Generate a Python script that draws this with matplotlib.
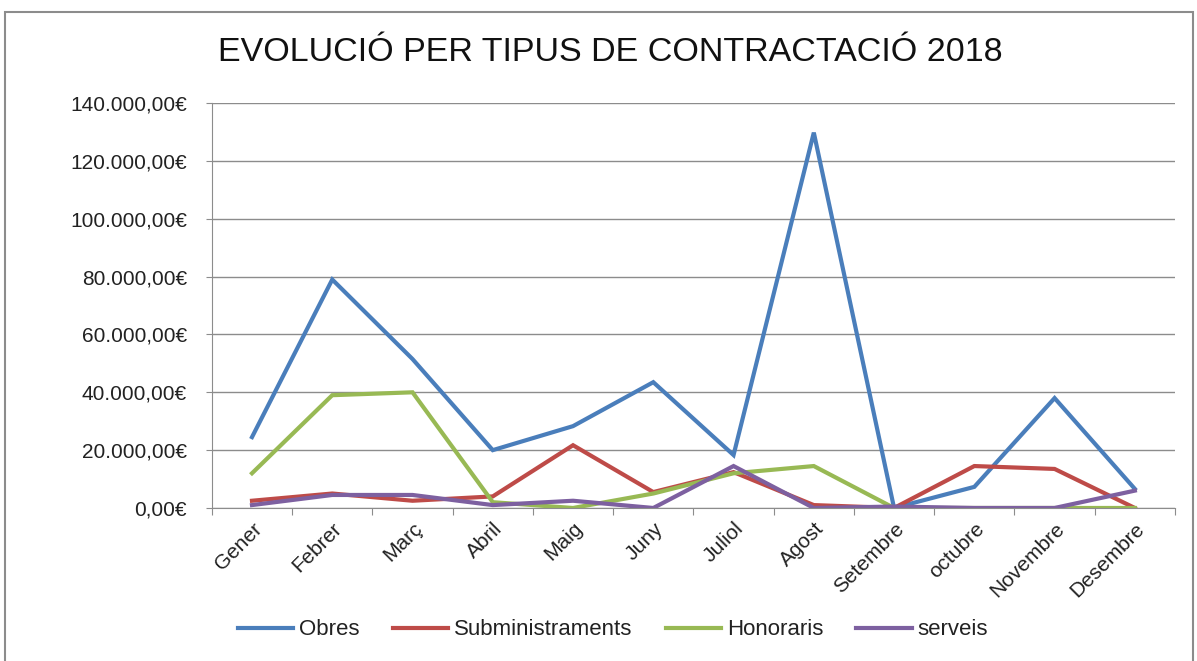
import numpy as np
import matplotlib
matplotlib.use("Agg")
import matplotlib.pyplot as plt
from matplotlib.patches import Rectangle
from matplotlib.ticker import FuncFormatter, MultipleLocator

plt.rcParams['font.family'] = ['Liberation Sans', 'DejaVu Sans']

mesos = ["Gener", "Febrer", "Març", "Abril", "Maig", "Juny", "Juliol",
         "Agost", "Setembre", "octubre", "Novembre", "Desembre"]

obres = [24500, 79000, 51500, 20000, 28300, 43500, 18300, 129800, 0, 7300, 38000, 6600]
subministraments = [2500, 5000, 2500, 4000, 21700, 5500, 12400, 1000, 0, 14500, 13500, 0]
honoraris = [12000, 39000, 40000, 2000, 0, 5000, 12000, 14500, 0, 0, 0, 0]
serveis = [1000, 4500, 4500, 1000, 2500, 0, 14500, 0, 500, 0, 0, 6000]

series = [("Obres", obres, "#4A7EBB"),
          ("Subministraments", subministraments, "#BE4B48"),
          ("Honoraris", honoraris, "#98B954"),
          ("serveis", serveis, "#7D60A0")]

fig = plt.figure(figsize=(11.97, 6.61), dpi=100)
ax = fig.add_axes([0.177, 0.2315, 0.8046, 0.6125])

x = np.arange(len(mesos))
for name, vals, col in series:
    ax.plot(x, vals, color=col, lw=3, label=name, solid_joinstyle='miter')

ax.set_xlim(-0.5, len(mesos) - 0.5)
ax.set_ylim(0, 140000)
ax.yaxis.set_major_locator(MultipleLocator(20000))
ax.yaxis.grid(True, color="#8c8c8c", lw=1)
ax.set_axisbelow(True)


def euro(v, pos):
    s = f"{v:,.2f}".replace(",", "X").replace(".", ",").replace("X", ".")
    return s + "€"


ax.yaxis.set_major_formatter(FuncFormatter(euro))
ax.tick_params(axis='y', labelsize=15, length=4, color="#8c8c8c", pad=14,
               labelcolor="#222222")

ax.set_xticks(np.arange(-0.5, len(mesos), 1.0))
ax.set_xticklabels([])
ax.tick_params(axis='x', length=5, color="#8c8c8c")
for i, m in enumerate(mesos):
    ax.text(i, -3800, m, rotation=45, ha='right', va='top',
            rotation_mode='anchor', fontsize=15, color="#222222",
            transform=ax.transData)

for s in ["top", "right"]:
    ax.spines[s].set_visible(False)
for s in ["left", "bottom"]:
    ax.spines[s].set_color("#8c8c8c")

fig.text(0.51, 0.921, "EVOLUCIÓ PER TIPUS DE CONTRACTACIÓ 2018",
         ha='center', va='center', fontsize=24.5, color="#111111")

fig.legend(loc='center', bbox_to_anchor=(0.512, 0.047), ncol=4, frameon=False,
           fontsize=16, handlelength=2.5, handletextpad=0.25, columnspacing=1.5,
           labelcolor="#222222")

fig.patches.append(Rectangle((5 / 1197, -0.05), 1188 / 1197, 1.0 - 12 / 661 + 0.05,
                             transform=fig.transFigure, fill=False,
                             edgecolor="#8c8c8c", lw=1.5))

fig.savefig("out.png", dpi=100)
